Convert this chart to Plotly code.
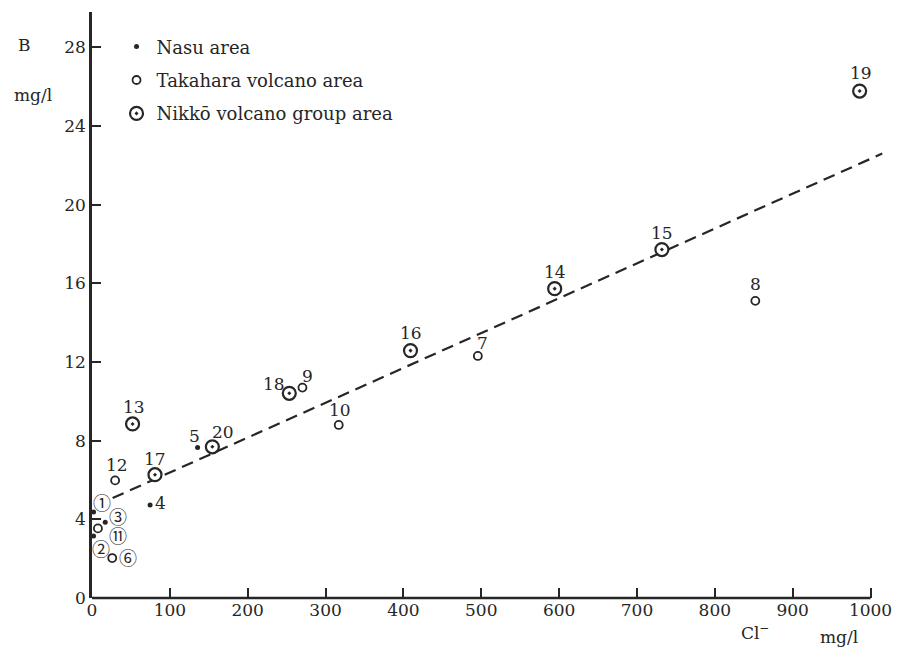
import plotly.graph_objects as go

# Chloride vs boron in hot-spring waters, three source areas
nasu_id = ["1", "2", "3", "4", "5"]
nasu_cl = [2, 2, 17, 74.6, 135.6]
nasu_b = [4.37, 3.15, 3.85, 4.73, 7.65]

taka_id = ["6", "7", "8", "9", "10", "11", "12"]
taka_cl = [26, 495.6, 852, 270.3, 316.9, 7.6, 29.7]
taka_b = [2.03, 12.31, 15.11, 10.70, 8.80, 3.54, 5.98]

nikko_id = ["13", "14", "15", "16", "17", "18", "19", "20"]
nikko_cl = [52.1, 594.3, 732, 409.1, 80.9, 253.4, 986, 154.6]
nikko_b = [8.85, 15.73, 17.72, 12.58, 6.27, 10.41, 25.78, 7.69]

# regression line (end points)
fit_cl = [26.5, 1015]
fit_b = [5.08, 22.6]

x_ticks = [0, 100, 200, 300, 400, 500, 600, 700, 800, 900, 1000]
y_ticks = [0, 4, 8, 12, 16, 20, 24, 28]

INK = "#262626"
SERIF = "DejaVu Serif"

# label text and pixel offsets for each point number
circled = {"1": "①", "2": "②", "3": "③", "6": "⑥", "11": "⑪"}
label_offset = {
    "1": (8, 10), "2": (7, -12), "3": (13, 6), "4": (10, 2), "5": (-3, 12),
    "6": (16, 1), "7": (5, 13), "8": (0, 17), "9": (5, 12), "10": (1, 15),
    "11": (20, -7), "12": (2, 15), "13": (1, 17), "14": (0, 17), "15": (0, 17),
    "16": (0, 18), "17": (0, 16), "18": (-15, 9), "19": (1, 18), "20": (11, 15),
}

fig = go.Figure()

fig.add_trace(go.Scatter(
    x=fit_cl, y=fit_b, mode="lines", showlegend=False, hoverinfo="skip",
    line=dict(color=INK, width=2.2, dash="12px,7px"),
))

fig.add_trace(go.Scatter(
    x=nasu_cl, y=nasu_b, mode="markers", name="Nasu area", legendgroup="a",
    cliponaxis=False,
    marker=dict(symbol="circle", size=5, color=INK),
))
fig.add_trace(go.Scatter(
    x=taka_cl, y=taka_b, mode="markers", name="Takahara volcano area", legendgroup="b",
    cliponaxis=False,
    marker=dict(symbol="circle-open", size=8, color=INK, line=dict(width=1.8, color=INK)),
))
fig.add_trace(go.Scatter(
    x=nikko_cl, y=nikko_b, mode="markers", name="Nikkō volcano group area", legendgroup="c",
    cliponaxis=False,
    marker=dict(symbol="circle-dot", size=13, color="white", line=dict(width=2.2, color=INK)),
))

annotations = []
for ids, xs, ys in ((nasu_id, nasu_cl, nasu_b), (taka_id, taka_cl, taka_b), (nikko_id, nikko_cl, nikko_b)):
    for pid, xv, yv in zip(ids, xs, ys):
        dx, dy = label_offset[pid]
        is_circ = pid in circled
        annotations.append(dict(
            x=xv, y=yv, xref="x", yref="y", showarrow=False,
            xanchor="center", yanchor="middle",
            text=circled.get(pid, pid), xshift=dx, yshift=dy,
            font=dict(family="Noto Sans CJK JP" if is_circ else SERIF,
                      size=18 if is_circ else 17, color=INK),
        ))

# axis captions
cap_font = dict(family=SERIF, size=17, color=INK)
annotations += [
    dict(x=-0.085, y=0.944, xref="paper", yref="paper", text="B", showarrow=False,
         xanchor="center", yanchor="middle", font=cap_font),
    dict(x=-0.074, y=0.858, xref="paper", yref="paper", text="mg/l", showarrow=False,
         xanchor="center", yanchor="middle", font=cap_font),
    dict(x=0.838, y=-0.058, xref="paper", yref="paper", text="Cl<sup>−</sup>", showarrow=False,
         xanchor="center", yanchor="middle", font=cap_font),
    dict(x=0.944, y=-0.066, xref="paper", yref="paper", text="mg/l", showarrow=False,
         xanchor="center", yanchor="middle", font=cap_font),
]

fig.update_layout(
    width=904, height=650,
    margin=dict(l=92, r=12, t=12, b=52),
    paper_bgcolor="white", plot_bgcolor="white",
    showlegend=True,
    legend=dict(
        x=0.031, y=0.972, xanchor="left", yanchor="top",
        font=dict(family=SERIF, size=18, color=INK),
        bgcolor="rgba(0,0,0,0)", traceorder="grouped", tracegroupgap=7,
    ),
    annotations=annotations,
    shapes=[dict(type="line", xref="x", yref="paper", x0=0, x1=1000, y0=0, y1=0,
                 line=dict(color=INK, width=2.5))],
    xaxis=dict(
        range=[0, 1016], showgrid=False, zeroline=False, showline=False,
        tickmode="array", tickvals=x_ticks, ticktext=[str(v) for v in x_ticks],
        ticks="inside", ticklen=10, tickwidth=1.6, tickcolor=INK,
        tickfont=dict(family=SERIF, size=17, color=INK),
    ),
    yaxis=dict(
        range=[0, 29.8], showgrid=False, zeroline=False,
        showline=True, linecolor=INK, linewidth=2.5,
        tickmode="array", tickvals=y_ticks + [29.8],
        ticktext=[str(v) for v in y_ticks] + [""],
        ticks="inside", ticklen=9, tickwidth=2, tickcolor=INK,
        tickfont=dict(family=SERIF, size=17, color=INK),
    ),
)

fig.write_html("out.html")
